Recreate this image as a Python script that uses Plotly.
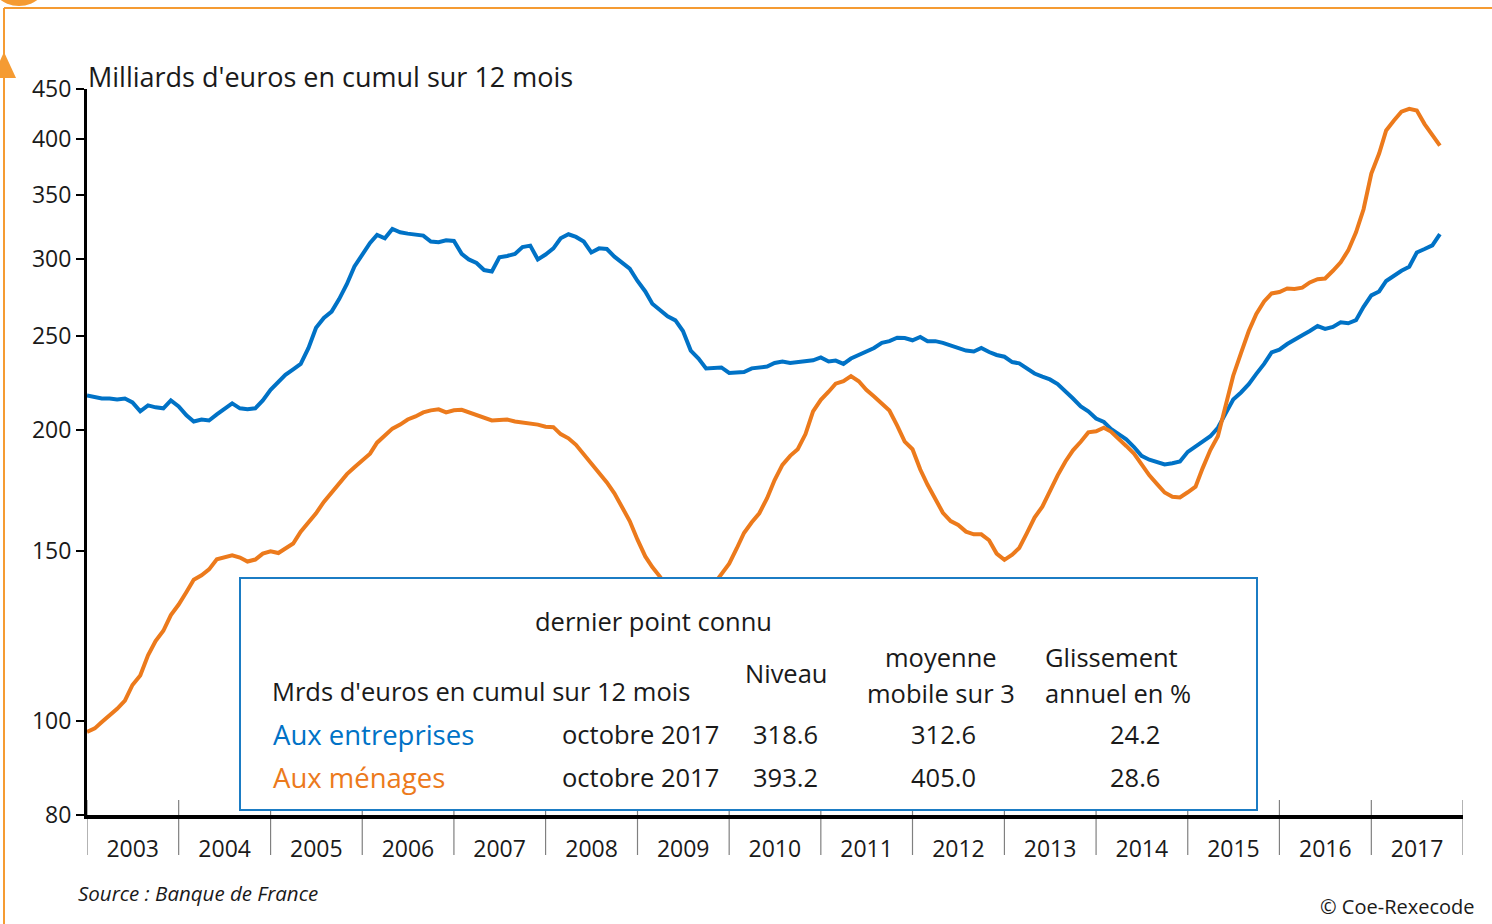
import math
import pandas as pd
import plotly.graph_objects as go

# ---------------- data ----------------
months = pd.date_range("2003-01-01", periods=178, freq="MS")

entreprises = [
    217, 216, 215.5, 215.5, 215, 215.5, 213.5, 209, 212, 211, 210.5, 214.5,        # 2003
    211.5, 207, 204, 205, 204.5, 207.5, 210.5, 213, 210.5, 210, 210.5, 214.5,      # 2004
    220, 224, 228, 231, 234, 243, 255, 261, 265, 273, 283, 295,                    # 2005
    304, 312, 318, 315.5, 322.5, 320, 319, 318.5, 317.5, 313, 312.5, 314,          # 2006
    313.5, 304, 300, 297.5, 292.5, 291.5, 301.5, 302.5, 304, 309, 310, 300,        # 2007
    303.5, 308, 315.5, 318.5, 316.5, 313, 305, 308, 307.5, 302, 298, 293.5,        # 2008
    285, 278, 270, 265.5, 262, 259.5, 253, 241.5, 237, 231.5, 231.5, 232,          # 2009
    229, 229.5, 229.5, 231.5, 231.8, 232.5, 234.5, 235.3, 234.5, 235, 235, 236,    # 2010
    237.6, 235.3, 235.8, 234, 237, 239, 241, 243, 246, 247, 249, 248.8,            # 2011
    247.5, 249.5, 247, 247, 246, 244.5, 243.5, 241.5, 241, 243, 240.7, 239,        # 2012
    238, 235, 234.3, 231.5, 228.7, 227, 225.5, 223, 219.5, 215.5, 211.5, 209,      # 2013
    205.5, 203.8, 200.5, 198, 195.5, 192, 188, 186.3, 185.3, 184.2, 184.7, 185.5,  # 2014
    189.8, 192, 194.5, 197, 201, 208, 215, 218.6, 223, 228.5, 234, 240.5,          # 2015
    242, 245.3, 247.5, 250.5, 253, 256, 254.3, 255.5, 258.3, 257.7, 259.6, 268,    # 2016
    275.4, 278, 285, 288.8, 292, 294.8, 305, 307.5, 310.2, 318.6,                  # 2017
]

menages = [
    97.5, 98.3, 99.8, 101.3, 103, 105, 109, 111.5, 117, 121, 124, 128.7,           # 2003
    132, 136, 140, 141.5, 143.5, 147, 147.8, 148.4, 147.6, 146.2, 146.9, 149,      # 2004
    149.8, 149.2, 150.8, 152.6, 157, 160.5, 164, 168.5, 172.5, 176.5, 180, 183,    # 2005
    186, 189, 194, 197.5, 200.6, 202.5, 205, 206.5, 208.5, 209.5, 210, 208.5,      # 2006
    209.5, 209.8, 208.5, 207.5, 206, 204.5, 204.8, 205, 204, 203.5, 203, 202.5,    # 2007
    201.5, 201.3, 198, 196, 193, 188.8, 184.6, 180.5, 176.5, 172, 166, 161,        # 2008
    154, 148, 144.3, 141, 137, 134, 132, 131, 132, 134, 138.5, 142,                # 2009
    145.5, 151, 156.5, 160.5, 164, 170, 177.5, 184, 188, 191, 198, 209,            # 2010
    214.8, 219, 223.2, 224.6, 227.3, 224.5, 220, 216.5, 212.5, 209.4, 202, 194.5,  # 2011
    191, 182, 175.5, 169.5, 164.2, 161, 159.5, 157, 156, 156, 153.8, 149,          # 2012
    146.8, 148.6, 151, 156.5, 162.3, 166.6, 173.2, 179.5, 185.5, 190.5, 194.4, 198.8,  # 2013
    199.3, 201, 199.2, 196, 192.5, 189, 184, 179.5, 175.8, 172.3, 170.6, 170.3,    # 2014
    172.4, 174.7, 182.5, 190.6, 197, 212, 227.5, 240, 253, 263.5, 271.5, 276.7,    # 2015
    277.6, 280, 279.7, 280.5, 284, 286.2, 286.7, 292, 298, 306.5, 320, 338,        # 2016
    368, 386, 407.8, 417.5, 426.3, 429.2, 427.5, 414, 403, 393.2,                  # 2017
]

years = list(range(2003, 2018))
y_ticks = [80, 100, 150, 200, 250, 300, 350, 400, 450]

table_title = "dernier point connu"
table_unit = "Mrds d'euros en cumul sur 12 mois"
table_header = ["Niveau", "moyenne", "mobile sur 3", "Glissement", "annuel en %"]
row_labels = ["Aux entreprises", "Aux ménages"]
row_dates = ["octobre 2017", "octobre 2017"]
row_niveau = ["318.6", "393.2"]
row_mm3 = ["312.6", "405.0"]
row_gliss = ["24.2", "28.6"]

# ---------------- style ----------------
W, H = 1492, 924
ML, MR, MT, MB = 87, 29, 89, 109
PW, PH = W - ML - MR, H - MT - MB
FONT = "Open Sans"
BLUE = "#0072C6"
ORANGE = "#EC7A1C"
FRAME = "#F59B32"
TXT = "#1a1a1a"
FS_AX = 23
FS_BOX = 25.5


def px(X):
    return (X - ML) / PW


def py(Y):
    return (H - MB - Y) / PH


fig = go.Figure()
fig.add_trace(go.Scatter(x=months, y=entreprises, mode="lines",
                         line=dict(color=BLUE, width=4), name="Aux entreprises"))
fig.add_trace(go.Scatter(x=months, y=menages, mode="lines",
                         line=dict(color=ORANGE, width=4), name="Aux ménages"))

shapes = []
# year separators
for yr in years + [years[-1] + 1]:
    shapes.append(dict(type="line", xref="x", yref="paper",
                       x0=f"{yr}-01-01", x1=f"{yr}-01-01", y0=py(855), y1=py(800),
                       line=dict(color="#808080", width=1.2), layer="below"))
# table box
shapes.append(dict(type="rect", xref="paper", yref="paper",
                   x0=px(240), x1=px(1257), y0=py(810), y1=py(578),
                   fillcolor="white", line=dict(color="#1B7CC4", width=2), layer="above"))
# page frame decoration
shapes.append(dict(type="line", xref="paper", yref="paper",
                   x0=px(4), x1=px(W), y0=py(8), y1=py(8),
                   line=dict(color=FRAME, width=2)))
shapes.append(dict(type="line", xref="paper", yref="paper",
                   x0=px(4), x1=px(4), y0=py(8), y1=py(H),
                   line=dict(color=FRAME, width=2)))
shapes.append(dict(type="circle", xref="paper", yref="paper",
                   x0=px(-12), x1=px(50), y0=py(6), y1=py(-56),
                   fillcolor=FRAME, line=dict(width=0)))
shapes.append(dict(type="path", xref="paper", yref="paper",
                   path=f"M {px(4)},{py(52)} L {px(16)},{py(78)} L {px(-8)},{py(78)} Z",
                   fillcolor=FRAME, line=dict(width=0)))

ann = []


def add(text, X, Y, anchor="center", color=TXT, size=FS_BOX, italic=False):
    t = f"<i>{text}</i>" if italic else text
    ann.append(dict(text=t, x=px(X), y=py(Y), xref="paper", yref="paper",
                    xanchor=anchor, yanchor="middle", showarrow=False,
                    font=dict(family=FONT, size=size, color=color)))


add("Milliards d'euros en cumul sur 12 mois", 86, 76, anchor="left", size=27)
# table contents
add(table_title, 653, 621)
add(table_unit, 270, 691, anchor="left")
add(table_header[0], 786, 673)
add(table_header[1], 941, 657)
add(table_header[2], 941, 693)
add(table_header[3], 1043, 657, anchor="left")
add(table_header[4], 1043, 693, anchor="left")
row_y = [734, 777]
row_col = [BLUE, ORANGE]
for i in range(2):
    add(row_labels[i], 271, row_y[i], anchor="left", color=row_col[i], size=27.5)
    add(row_dates[i], 640, row_y[i])
    add(row_niveau[i], 785, row_y[i])
    add(row_mm3[i], 943, row_y[i])
    add(row_gliss[i], 1135, row_y[i])

add("Source : Banque de France", 76, 893, anchor="left", size=20.5, italic=True)
add("© Coe-Rexecode", 1476, 906, anchor="right", size=20)

fig.update_layout(
    width=W, height=H,
    margin=dict(l=ML, r=MR, t=MT, b=MB),
    paper_bgcolor="white", plot_bgcolor="white",
    showlegend=False,
    font=dict(family=FONT, size=FS_AX, color=TXT),
    shapes=shapes, annotations=ann,
    xaxis=dict(
        range=[f"{years[0]}-01-01", f"{years[-1] + 1}-01-01"],
        tickvals=[f"{y}-07-02" for y in years],
        ticktext=[str(y) for y in years],
        ticks="", showgrid=False, zeroline=False,
        showline=True, linecolor="black", linewidth=4,
        ticklabelstandoff=10,
        tickfont=dict(family=FONT, size=FS_AX, color=TXT),
    ),
    yaxis=dict(
        type="log",
        range=[math.log10(80), math.log10(450)],
        tickvals=y_ticks, ticktext=[str(v) for v in y_ticks],
        ticks="outside", ticklen=8, tickwidth=1.5, tickcolor="black",
        showgrid=False, zeroline=False,
        showline=True, linecolor="black", linewidth=3,
        tickfont=dict(family=FONT, size=FS_AX, color=TXT),
    ),
)

fig.write_html("out.html", config={"displayModeBar": False},
               post_script="document.body.style.margin='0';")
